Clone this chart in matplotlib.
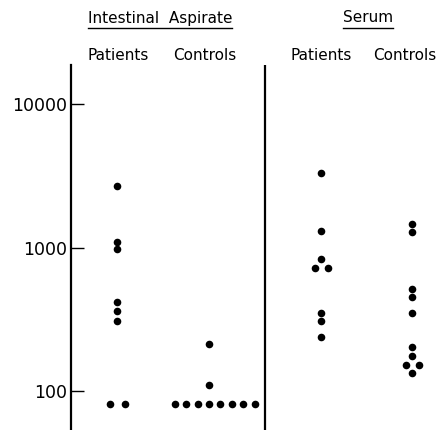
import matplotlib
matplotlib.use("Agg")
import matplotlib.pyplot as plt

plt.rcParams["font.family"] = ["DejaVu Sans"]

# column centres (axis units, spine = 0) and dot spacing unit
COL_X = [46, 138, 250, 341]
DOT = 11.4

# values; offsets are horizontal dot shifts (in dot widths)
ia_patients = [2700, 1100, 980, 420, 360, 307, 81, 81]
ia_patients_off = [0, 0, 0, 0, 0, 0, -0.6, 0.7]

ia_controls = [211, 111, 81, 81, 81, 81, 81, 81, 81, 81]
ia_controls_off = [0, 0, -3, -2, -1, 0, 1, 2, 3, 4]

se_patients = [3300, 1310, 836, 723, 723, 351, 309, 238]
se_patients_off = [0, 0, 0, -0.55, 0.6, 0, 0, 0]

se_controls = [1460, 1290, 511, 450, 348, 204, 175, 151, 151, 133]
se_controls_off = [0, 0, 0, 0, 0, 0, 0, -0.55, 0.6, 0]

groups = [
    (ia_patients, ia_patients_off),
    (ia_controls, ia_controls_off),
    (se_patients, se_patients_off),
    (se_controls, se_controls_off),
]

yticks = [100, 1000, 10000]
ytick_labels = ["100", "1000", "10000"]

W, H = 437, 430
fig = plt.figure(figsize=(W / 100, H / 100), dpi=100)
ax = fig.add_axes([71 / W, 0, (W - 71) / W, 365 / H])

for (vals, offs), cx in zip(groups, COL_X):
    xs = [cx + o * DOT for o in offs]
    ax.scatter(xs, vals, s=30, color="black", linewidths=0, zorder=3)

ax.set_yscale("log")
ax.set_ylim(53.5, 18700)
ax.set_xlim(0, W - 71)
ax.set_yticks(yticks)
ax.set_yticklabels(ytick_labels, fontsize=12.5)
ax.minorticks_off()
ax.tick_params(axis="y", direction="in", length=9.5, width=1.0, pad=3)
ax.set_xticks([])
for side in ["top", "right", "bottom"]:
    ax.spines[side].set_visible(False)
ax.spines["left"].set_linewidth(1.6)
ax.axvline(194, color="black", lw=1.6)

# headers
fs = 11
fig.text(160 / W, 1 - 18 / H, "Intestinal  Aspirate", ha="center", va="center", fontsize=fs)
fig.add_artist(plt.Line2D([88 / W, 232 / W], [1 - 28 / H] * 2, color="black", lw=1.0))
fig.text(368 / W, 1 - 18 / H, "Serum", ha="center", va="center", fontsize=fs)
fig.add_artist(plt.Line2D([343 / W, 393 / W], [1 - 28 / H] * 2, color="black", lw=1.0))

for x, lab in [(118, "Patients"), (205, "Controls"), (321, "Patients"), (405, "Controls")]:
    fig.text(x / W, 1 - 55 / H, lab, ha="center", va="center", fontsize=fs)

fig.savefig("out.png", dpi=100, facecolor="white")
